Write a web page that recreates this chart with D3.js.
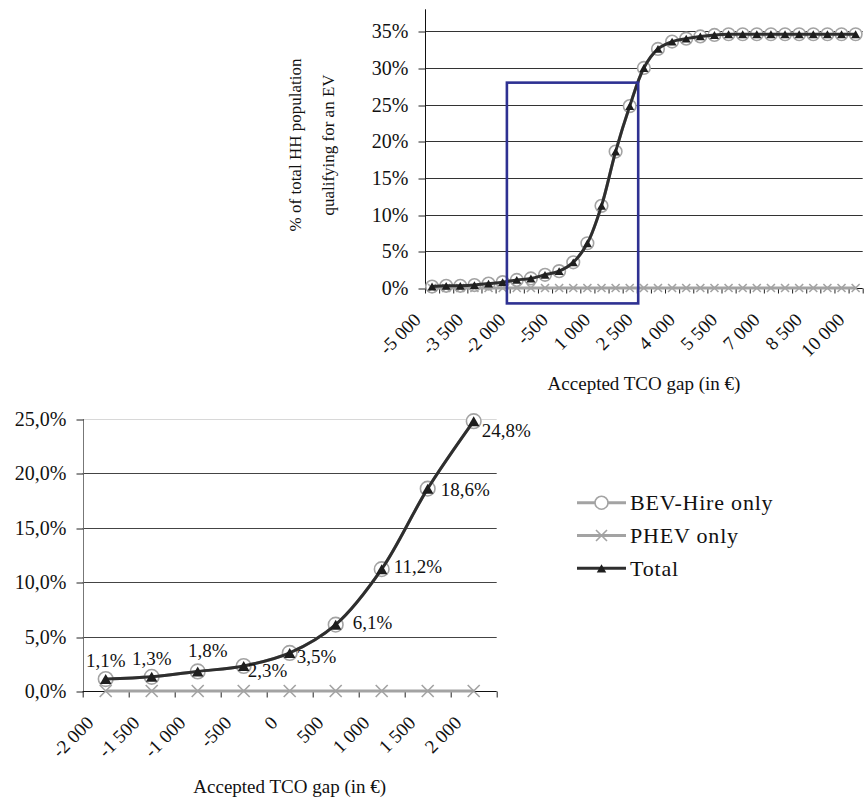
<!DOCTYPE html>
<html>
<head>
<meta charset="utf-8">
<script src="https://cdn.jsdelivr.net/npm/d3@7"></script>
<style>
  html, body { margin: 0; padding: 0; background: #fff; }
  svg { display: block; font-family: "Liberation Serif", "Times New Roman", serif; }
</style>
</head>
<body>
<svg id="chart" width="865" height="803"></svg>
<script>
// ---------------- DATA ----------------
const topCategories = [-5000, -4500, -4000, -3500, -3000, -2500, -2000, -1500, -1000, -500, 0, 500, 1000, 1500, 2000, 2500, 3000, 3500, 4000, 4500, 5000, 5500, 6000, 6500, 7000, 7500, 8000, 8500, 9000, 9500, 10000];
const topBEV   = [0.002, 0.003, 0.003, 0.004, 0.006, 0.008, 0.011, 0.013, 0.018, 0.023, 0.035, 0.061, 0.112, 0.186, 0.248, 0.300, 0.326, 0.336, 0.340, 0.343, 0.345, 0.346, 0.346, 0.346, 0.346, 0.346, 0.346, 0.346, 0.346, 0.346, 0.346];
const topPHEV  = [0, 0, 0, 0, 0, 0, 0, 0, 0, 0, 0, 0, 0, 0, 0, 0, 0, 0, 0, 0, 0, 0, 0, 0, 0, 0, 0, 0, 0, 0, 0];
const topTotal = [0.002, 0.003, 0.003, 0.004, 0.006, 0.008, 0.011, 0.013, 0.018, 0.023, 0.035, 0.061, 0.112, 0.186, 0.248, 0.300, 0.326, 0.336, 0.340, 0.343, 0.345, 0.346, 0.346, 0.346, 0.346, 0.346, 0.346, 0.346, 0.346, 0.346, 0.346];
const topXTickValues = [-5000, -3500, -2000, -500, 1000, 2500, 4000, 5500, 7000, 8500, 10000];
const topYTicks = [0, 0.05, 0.10, 0.15, 0.20, 0.25, 0.30, 0.35];
const zoomBoxX = [-2350, 2300];
const zoomBoxY = [-0.021, 0.28];

const botCategories = [-2000, -1500, -1000, -500, 0, 500, 1000, 1500, 2000];
const botBEV   = [0.011, 0.013, 0.018, 0.023, 0.035, 0.061, 0.112, 0.186, 0.248];
const botPHEV  = [0, 0, 0, 0, 0, 0, 0, 0, 0];
const botTotal = [0.011, 0.013, 0.018, 0.023, 0.035, 0.061, 0.112, 0.186, 0.248];
const botYTicks = [0, 0.05, 0.10, 0.15, 0.20, 0.25];

const seriesNames = ["BEV-Hire only", "PHEV only", "Total"];
const xTitle = "Accepted TCO gap (in €)";
const yTitleLines = ["% of total HH population", "qualifying for an EV"];

// ---------------- STYLE ----------------
const GRAY = "#a3a3a3";
const DARK = "#2e2e2e";
const BLUE = "#2e3192";
const locale = d3.formatLocale({decimal: ",", thousands: " ", grouping: [3], currency: ["", "€"], minus: "-"});
const fmtThousands = locale.format(",d");
const fmtPct0 = locale.format(".0%");
const fmtPct1 = locale.format(".1%");
// label placement (style only): [anchor, dx, dy] relative to point
const botLabelPlacement = [
  ["middle", 0, -12], ["middle", 0, -12], ["middle", 10, -14], ["start", 4, 11],
  ["start", 7, 10], ["start", 17, 4], ["start", 12, 4], ["start", 13, 7], ["start", 8, 16]
];

const svg = d3.select("#chart");

function triPath(a) { const h = a * 0.87; return `M0,${-h/2}L${a/2},${h/2}L${-a/2},${h/2}Z`; }
function xPath(r) { return `M${-r},${-r}L${r},${r}M${-r},${r}L${r},${-r}`; }

function drawChart(cfg) {
  const {g, cats, bev, phev, total, left, right, top, bottom, yMax, yTicks, yFmt,
         xTickValues, xTickFmt, markerR, triA, xR, gridColors, yAxisColor, labelDx, labelDy, tickLen} = cfg;
  const x = d3.scaleBand().domain(cats).range([left, right]).padding(0);
  const y = d3.scaleLinear().domain([0, yMax]).range([bottom, top]);
  const bw = x.bandwidth();
  const cx = d => x(d) + bw / 2;

  // gridlines
  g.append("g").selectAll("line").data(yTicks.filter(t => t > 0)).join("line")
    .attr("x1", left).attr("x2", right)
    .attr("y1", d => Math.round(y(d)) + 0.5).attr("y2", d => Math.round(y(d)) + 0.5)
    .attr("stroke", (d, i) => gridColors[i]).attr("stroke-width", 1);

  // y axis
  const yAx = g.append("g").attr("transform", `translate(${Math.round(left) + 0.5},0)`)
    .call(d3.axisLeft(y).tickValues(yTicks).tickFormat(yFmt).tickSize(7).tickPadding(10));
  yAx.select(".domain").attr("stroke", yAxisColor).attr("d", `M0,${top}V${bottom}`);
  yAx.selectAll(".tick line").attr("stroke", "#222");
  yAx.selectAll(".tick line").attr("transform", d => `translate(0,${Math.round(y(d)) + 0.5 - y(d)})`);
  yAx.selectAll("text").style("font-size", "20px").style("font-family", "Liberation Serif").attr("fill", "#111");

  // x axis: boundary ticks
  const xIdx = d3.scaleLinear().domain([0, cats.length]).range([left, right]);
  const xb = g.append("g").attr("transform", `translate(0,${Math.round(bottom) + 0.5})`)
    .call(d3.axisBottom(xIdx).tickValues(d3.range(cats.length + 1)).tickFormat("").tickSize(tickLen));
  xb.select(".domain").attr("stroke", "#111").attr("d", `M${left},0H${right}`);
  xb.selectAll(".tick line").attr("stroke", "#222");

  // x axis labels
  const xl = g.append("g").attr("transform", `translate(0,${bottom})`)
    .call(d3.axisBottom(x).tickValues(xTickValues).tickFormat(xTickFmt).tickSize(0));
  xl.select(".domain").remove();
  xl.selectAll("text")
    .attr("x", 0).attr("y", 0).attr("dy", 0)
    .attr("text-anchor", "end")
    .attr("transform", `translate(${labelDx},${labelDy}) rotate(-45)`)
    .style("font-size", "19px").style("font-family", "Liberation Serif").attr("fill", "#111");

  const line = d3.line().x((d, i) => cx(cats[i])).y(d => y(d)).curve(d3.curveCatmullRom.alpha(0.5));

  // BEV series
  g.append("path").datum(bev).attr("d", line).attr("fill", "none").attr("stroke", GRAY).attr("stroke-width", 3);
  g.append("g").selectAll("circle").data(bev).join("circle")
    .attr("cx", (d, i) => cx(cats[i])).attr("cy", d => y(d)).attr("r", markerR)
    .attr("fill", "#fff").attr("stroke", GRAY).attr("stroke-width", 1.6);
  // PHEV series
  g.append("path").datum(phev).attr("d", line).attr("fill", "none").attr("stroke", GRAY).attr("stroke-width", 3);
  g.append("g").selectAll("path").data(phev).join("path")
    .attr("transform", (d, i) => `translate(${cx(cats[i])},${y(d)})`)
    .attr("d", xPath(xR)).attr("fill", "none").attr("stroke", GRAY).attr("stroke-width", 1.6);
  // Total series
  g.append("path").datum(total).attr("d", line).attr("fill", "none").attr("stroke", DARK).attr("stroke-width", 3);
  g.append("g").selectAll("path").data(total).join("path")
    .attr("transform", (d, i) => `translate(${cx(cats[i])},${y(d)})`)
    .attr("d", triPath(triA)).attr("fill", "#1e1e1e");

  return {x, y, cx, bw};
}

// ---------------- TOP CHART ----------------
const gTop = svg.append("g");
const topS = drawChart({
  g: gTop, cats: topCategories, bev: topBEV, phev: topPHEV, total: topTotal,
  left: 425, right: 862.7, top: 9.3, bottom: 288, yMax: 0.38, yTicks: topYTicks, yFmt: fmtPct0,
  xTickValues: topXTickValues, xTickFmt: fmtThousands, markerR: 6.3, triA: 9, xR: 4,
  gridColors: ["#333", "#333", "#333", "#333", "#333", "#333", "#333"], yAxisColor: "#111",
  labelDx: -10, labelDy: 33, tickLen: 5
});
// zoom box annotation
const xTopLin = d3.scaleLinear().domain([topCategories[0], topCategories[topCategories.length - 1]])
  .range([topS.cx(topCategories[0]), topS.cx(topCategories[topCategories.length - 1])]);
gTop.append("rect")
  .attr("x", xTopLin(zoomBoxX[0])).attr("y", topS.y(zoomBoxY[1]))
  .attr("width", xTopLin(zoomBoxX[1]) - xTopLin(zoomBoxX[0]))
  .attr("height", topS.y(zoomBoxY[0]) - topS.y(zoomBoxY[1]))
  .attr("fill", "none").attr("stroke", BLUE).attr("stroke-width", 2.6);

gTop.append("text").attr("x", 644).attr("y", 390).attr("text-anchor", "middle")
  .style("font-size", "19px").attr("fill", "#111").text(xTitle);
const yt = gTop.append("g").attr("transform", "translate(0,145)");
yTitleLines.forEach((t, i) => {
  yt.append("text").attr("transform", `translate(${301 + i * 33},0) rotate(-90)`)
    .attr("text-anchor", "middle").style("font-size", "17px").attr("fill", "#111").text(t);
});

// ---------------- BOTTOM CHART ----------------
const gBot = svg.append("g");
const botS = drawChart({
  g: gBot, cats: botCategories, bev: botBEV, phev: botPHEV, total: botTotal,
  left: 82.7, right: 496.7, top: 419, bottom: 691, yMax: 0.25, yTicks: botYTicks, yFmt: fmtPct1,
  xTickValues: botCategories, xTickFmt: fmtThousands, markerR: 7.3, triA: 11.5, xR: 6,
  gridColors: ["#444", "#444", "#444", "#444", "#d8d8d8"], yAxisColor: "#777",
  labelDx: -11, labelDy: 33, tickLen: 6
});
gBot.append("g").selectAll("text").data(botTotal).join("text")
  .attr("x", (d, i) => botS.cx(botCategories[i]) + botLabelPlacement[i][1])
  .attr("y", d => botS.y(d))
  .attr("dy", (d, i) => botLabelPlacement[i][2])
  .attr("text-anchor", (d, i) => botLabelPlacement[i][0])
  .style("font-size", "19px").attr("fill", "#111")
  .text(d => fmtPct1(d));
gBot.append("text").attr("x", 289.7).attr("y", 793).attr("text-anchor", "middle")
  .style("font-size", "19px").attr("fill", "#111").text(xTitle);

// ---------------- LEGEND ----------------
const legend = svg.append("g").attr("transform", "translate(577,0)");
const legendY = d3.scalePoint().domain(seriesNames).range([502.7, 568.3]);
const legendStyles = [
  {stroke: GRAY, marker: "circle"}, {stroke: GRAY, marker: "x"}, {stroke: DARK, marker: "tri"}
];
seriesNames.forEach((name, i) => {
  const row = legend.append("g").attr("transform", `translate(0,${legendY(name)})`);
  row.append("line").attr("x1", 0).attr("x2", 49).attr("stroke", legendStyles[i].stroke).attr("stroke-width", 3);
  if (legendStyles[i].marker === "circle")
    row.append("circle").attr("cx", 24.5).attr("r", 6.5).attr("fill", "#fff").attr("stroke", GRAY).attr("stroke-width", 1.6);
  else if (legendStyles[i].marker === "x")
    row.append("path").attr("transform", "translate(24.5,0)").attr("d", xPath(5.5)).attr("stroke", GRAY).attr("stroke-width", 1.6);
  else
    row.append("path").attr("transform", "translate(24.5,0)").attr("d", triPath(9.5)).attr("fill", "#1e1e1e");
  row.append("text").attr("x", 53).attr("dy", "0.33em").style("font-size", "22px")
    .style("letter-spacing", "0.8px").attr("fill", "#111").text(name);
});
</script>
</body>
</html>
